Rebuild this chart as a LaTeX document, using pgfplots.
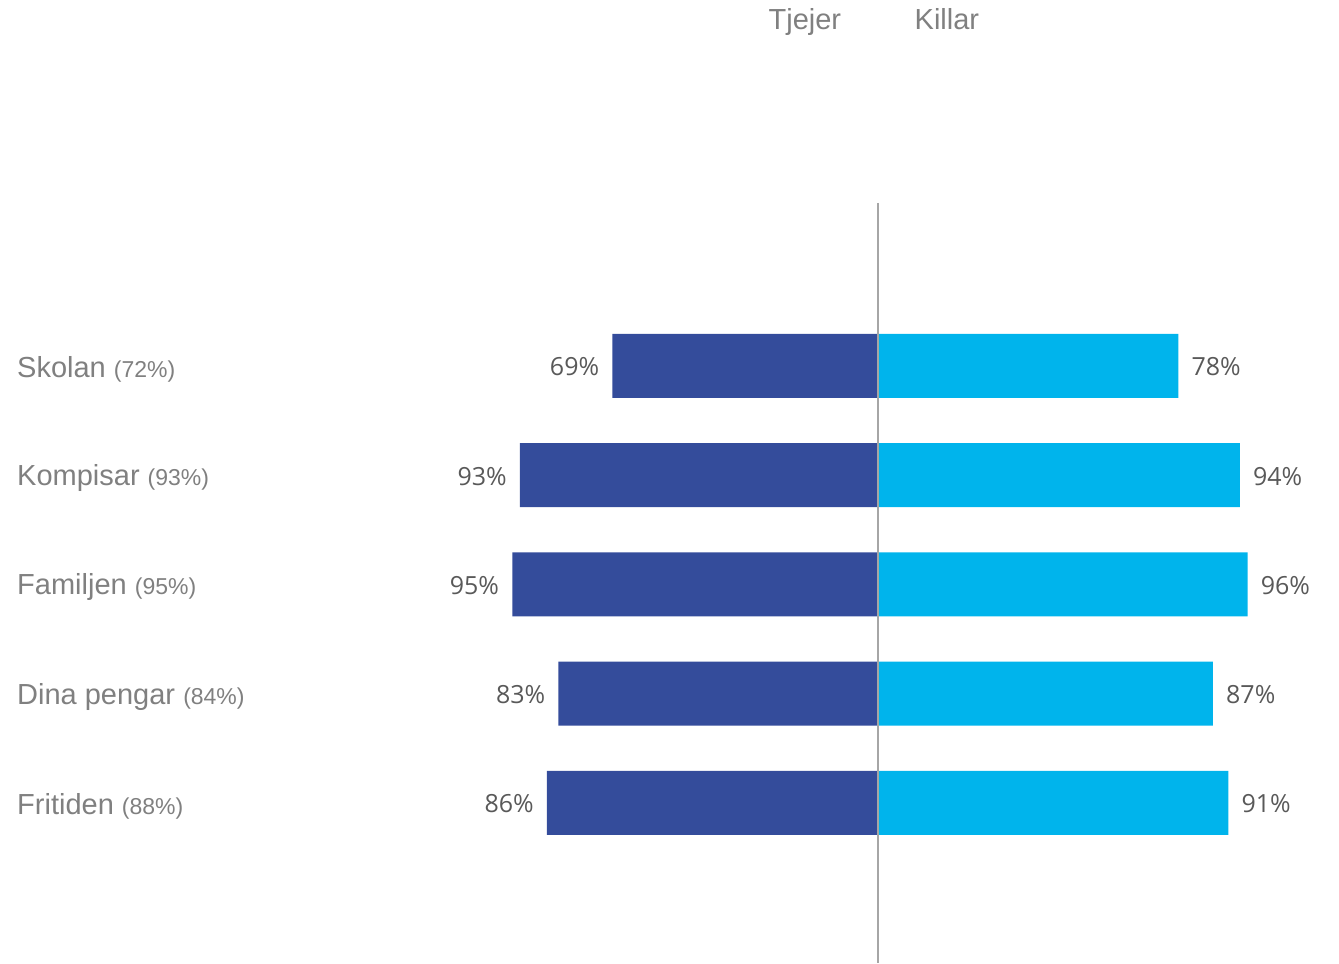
\documentclass[border=0pt]{standalone}
\usepackage{pgfplots}
\pgfplotsset{compat=1.18}
\usepackage{fontspec}
\setmainfont{Liberation Sans}
\newfontfamily\valfont{Open Sans}
\definecolor{darkb}{RGB}{52,76,155}
\definecolor{lightb}{RGB}{0,180,236}
\definecolor{catc}{RGB}{128,128,128}
\definecolor{valc}{RGB}{89,89,89}
\definecolor{midc}{RGB}{166,166,166}
\begin{document}
\begin{tikzpicture}
\begin{axis}[
 name=main,
 scale only axis, width=1339bp, height=963bp,
 xmin=-228.05, xmax=119.74,
 ymin=-3.35, ymax=5.465, y dir=reverse,
 axis line style={draw=none}, major tick length=0pt,
 xtick=\empty, ytick={0,1,2,3,4},
 /pgf/number format/assume math mode=true,
 yticklabels={
  {Skolan {\fontsize{23bp}{28bp}\selectfont(72\%)}},
  {Kompisar {\fontsize{23bp}{28bp}\selectfont(93\%)}},
  {Familjen {\fontsize{23bp}{28bp}\selectfont(95\%)}},
  {Dina pengar {\fontsize{23bp}{28bp}\selectfont(84\%)}},
  {Fritiden {\fontsize{23bp}{28bp}\selectfont(88\%)}}},
 yticklabel style={anchor=west, inner sep=0pt, xshift=17bp, yshift=-3bp, text=catc, font=\fontsize{29bp}{34bp}\selectfont},
 clip=false,
]
\addplot[xbar, bar width=64bp, bar shift=0pt, fill=darkb, draw=none,
 point meta=explicit,
 nodes near coords={\pgfmathprintnumber{\pgfplotspointmeta}\%},
 nodes near coords style={font=\valfont\fontsize{25bp}{30bp}\selectfont, text=valc, inner sep=0pt, anchor=east, xshift=-13bp, yshift=-1bp}]
 coordinates {(-69,0) [69] (-93,1) [93] (-95,2) [95] (-83,3) [83] (-86,4) [86]};
\addplot[xbar, bar width=64bp, bar shift=0pt, fill=lightb, draw=none,
 point meta=explicit,
 nodes near coords={\pgfmathprintnumber{\pgfplotspointmeta}\%},
 nodes near coords style={font=\valfont\fontsize{25bp}{30bp}\selectfont, text=valc, inner sep=0pt, anchor=west, xshift=13bp, yshift=-1bp}]
 coordinates {(78,0) [78] (94,1) [94] (96,2) [96] (87,3) [87] (91,4) [91]};
\addplot[midc, line width=2bp, no marks] coordinates {(0,-1.492) (0,5.465)};
\node[text=catc, font=\fontsize{29bp}{34bp}\selectfont, inner sep=0pt, anchor=base] at (axis cs:-19,-3.0755) {Tjejer};
\node[text=catc, font=\fontsize{29bp}{34bp}\selectfont, inner sep=0pt, anchor=base] at (axis cs:17.9,-3.0755) {Killar};
\end{axis}
\pgfresetboundingbox
\path[use as bounding box] (main.south west) rectangle (main.north east);
\end{tikzpicture}
\end{document}
